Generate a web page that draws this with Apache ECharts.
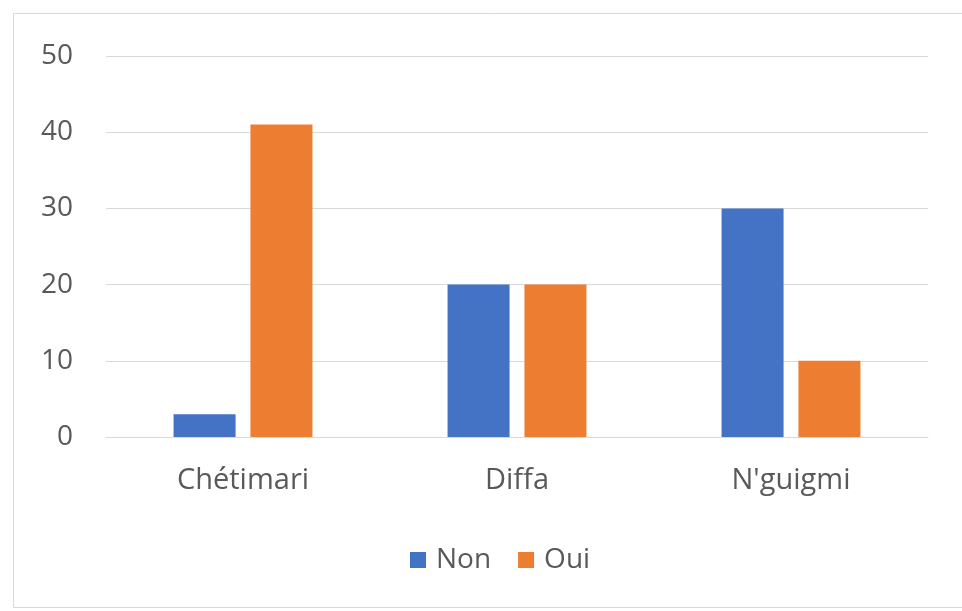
<!DOCTYPE html>
<html>
<head>
<meta charset="utf-8">
<script src="https://cdn.jsdelivr.net/npm/echarts@6/dist/echarts.min.js"></script>
<style>
  html, body { margin: 0; padding: 0; background: #fff; }
  #chart { width: 962px; height: 611px; }
</style>
</head>
<body>
<div id="chart"></div>
<script>
const categories = ['Chétimari', 'Diffa', "N'guigmi"];
const nonValues = [3, 20, 30];
const ouiValues = [41, 20, 10];
const yTicks = [0, 10, 20, 30, 40, 50];

const chart = echarts.init(document.getElementById('chart'));
const font = '"Open Sans", "Noto Sans", sans-serif';

const option = {
  animation: false,
  textStyle: { fontFamily: font },
  graphic: [{
    type: 'rect',
    shape: { x: 13.5, y: 13.5, width: 960, height: 594 },
    style: { fill: 'none', stroke: '#d9d9d9', lineWidth: 1 }
  }],
  grid: { left: 106, right: 34, top: 56, bottom: 174 },
  legend: {
    data: ['Non', 'Oui'],
    left: 405,
    top: 540,
    itemWidth: 16,
    itemHeight: 16,
    itemGap: 27,
    icon: 'rect',
    textStyle: { fontSize: 28, lineHeight: 30, color: '#595959', fontFamily: font, padding: [0, 0, 0, 5] }
  },
  xAxis: {
    type: 'category',
    data: categories,
    axisLine: { lineStyle: { color: '#d9d9d9' } },
    axisTick: { show: false },
    axisLabel: { fontSize: 29, color: '#595959', margin: 29, fontFamily: font }
  },
  yAxis: {
    type: 'value',
    min: yTicks[0],
    max: yTicks[yTicks.length - 1],
    interval: 10,
    axisLine: { show: false },
    axisTick: { show: false },
    splitLine: { lineStyle: { color: '#d9d9d9' } },
    axisLabel: { fontSize: 28, color: '#595959', margin: 33, fontFamily: font }
  },
  series: [
    {
      name: 'Non',
      type: 'bar',
      data: nonValues,
      barWidth: 62,
      barGap: '24%',
      itemStyle: { color: '#4472C4' }
    },
    {
      name: 'Oui',
      type: 'bar',
      data: ouiValues,
      barWidth: 62,
      itemStyle: { color: '#ED7D31' }
    }
  ]
};

chart.setOption(option);
</script>
</body>
</html>
